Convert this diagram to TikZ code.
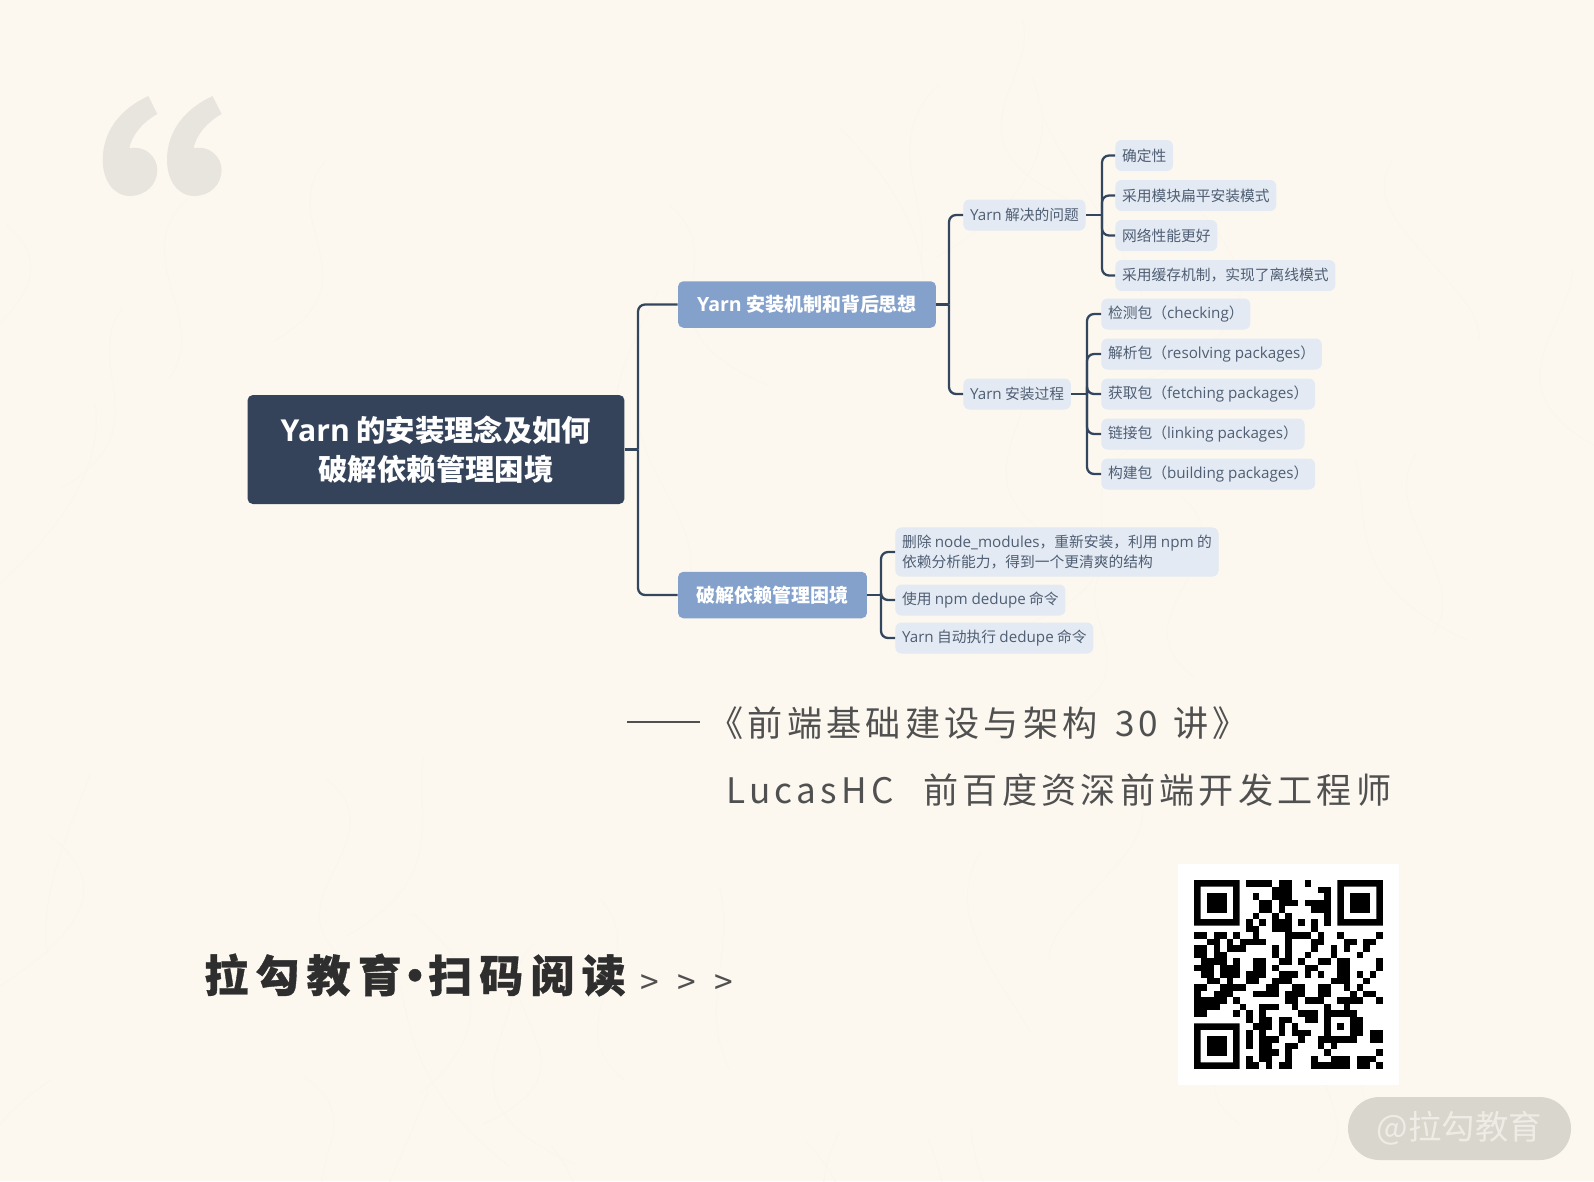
\documentclass[tikz,border=0pt]{standalone}
\usepackage{fontspec}
\usepackage{xcolor}
\setmainfont{Noto Sans CJK SC}
\newfontfamily\latfont[Scale=1.03]{Open Sans}
\newfontfamily\heavyfont[FakeBold=0.8]{Noto Sans CJK SC}
\newcommand{\la}[1]{{\latfont #1}}
\definecolor{paper}{HTML}{FCF8F0}
\definecolor{fibre}{HTML}{FAF6ED}
\definecolor{navy}{HTML}{34435A}
\definecolor{wire}{HTML}{34465E}
\definecolor{midblue}{HTML}{84A1CB}
\definecolor{paleblue}{HTML}{E3EAF3}
\definecolor{leaftext}{HTML}{4F5E73}
\definecolor{quotegray}{HTML}{E8E5DE}
\definecolor{pillgray}{HTML}{D9D6CE}
\definecolor{pilltext}{HTML}{EFECE5}
\definecolor{captext}{HTML}{505050}
\tikzset{
    rootbox/.style={fill=navy, text=white, rounded corners=3pt, inner sep=0pt, minimum width=7.54cm, minimum height=2.18cm, align=center, font=\fontsize{16.7}{22.3}\selectfont\bfseries},
    midbox/.style={fill=midblue, text=white, rounded corners=3pt, inner sep=0pt, minimum height=0.93cm, font=\fontsize{10.8}{13}\selectfont\bfseries},
    leafbox/.style={fill=paleblue, text=leaftext, rounded corners=3.5pt, inner xsep=3.8pt, inner ysep=0pt, minimum height=0.62cm, anchor=west, align=left, font=\fontsize{8.4}{11.3}\selectfont},
    branch/.style={draw=wire, line width=1.3pt, rounded corners=4pt},
    caption/.style={text=captext, inner sep=0pt, anchor=west, font=\fontsize{20}{24}\selectfont\addfontfeature{LetterSpace=12}}
}
\begin{document}
\begin{tikzpicture}[x=0.02cm, y=-0.02cm]
        %PAPER
        \fill[paper] (0,0) rectangle (1594,1181);
        \useasboundingbox (0,0) rectangle (1594,1181);
        \pgfmathsetseed{7}
        \foreach \i in {1,...,45}{
            \pgfmathsetmacro{\xa}{rnd*1594}
            \pgfmathsetmacro{\ya}{rnd*1181}
            \draw[fibre, line width=0.5pt] (\xa,\ya) .. controls (\xa+rand*90,\ya+60) and (\xa+rand*90,\ya+120) .. (\xa+rand*120,\ya+180);
        }
        %QUOTE MARK
        \foreach \dx in {0,64.3}{
            \fill[quotegray, xshift=\dx*0.02cm] (148.3,96) -- (157.3,114) .. controls (143.3,121.7) and (131.7,135) .. (129.3,148.3) .. controls (145,145) and (157.3,156.7) .. (157.3,170) .. controls (157.3,185) and (145,196) .. (130,196) .. controls (113.3,196) and (102.7,180) .. (102.7,160) .. controls (102.7,130) and (121.7,108.3) .. (148.3,96) -- cycle;
        }
        %NODES
        \node[rootbox] (root) at (436,449.5) {\la{Yarn} 的安装理念及如何\\破解依赖管理困境};
        \node[midbox, minimum width=5.16cm] (mech) at (807,304.5) {\la{Yarn} 安装机制和背后思想};
        \node[midbox, minimum width=3.78cm] (crack) at (772.5,595) {破解依赖管理困境};
        \node[leafbox] (solve) at (963,215) {\la{Yarn} 解决的问题};
        \node[leafbox] (steps) at (963,394) {\la{Yarn} 安装过程};
        \node[leafbox] (s1) at (1115,155.5) {确定性};
        \node[leafbox] (s2) at (1115,195.5) {采用模块扁平安装模式};
        \node[leafbox] (s3) at (1115,235.5) {网络性能更好};
        \node[leafbox] (s4) at (1115,275.5) {采用缓存机制，实现了离线模式};
        \node[leafbox] (p1) at (1101,314) {检测包（\la{checking}）};
        \node[leafbox] (p2) at (1101,354) {解析包（\la{resolving packages}）};
        \node[leafbox] (p3) at (1101,394) {获取包（\la{fetching packages}）};
        \node[leafbox] (p4) at (1101,434) {链接包（\la{linking packages}）};
        \node[leafbox] (p5) at (1101,474) {构建包（\la{building packages}）};
        \node[leafbox, inner ysep=4.3pt] (c1) at (895,552) {删除 \la{node\_modules}，重新安装，利用 \la{npm} 的\\依赖分析能力，得到一个更清爽的结构};
        \node[leafbox] (c2) at (895,600) {使用 \la{npm dedupe} 命令};
        \node[leafbox] (c3) at (895,638) {\la{Yarn} 自动执行 \la{dedupe} 命令};
        %BRANCH POINTS
        \coordinate (hubRoot) at (638,449.5);
        \coordinate (hubMech) at (949,304.5);
        \coordinate (hubSolve) at (1102,215);
        \coordinate (hubSteps) at (1087,394);
        \coordinate (hubCrack) at (881,595);
        %CONNECTORS
        \draw[branch] (root.east) -- (hubRoot);
        \draw[branch] (mech.east) -- (hubMech);
        \draw[branch] (crack.east) -- (hubCrack);
        \draw[branch] (solve.east) -- (hubSolve);
        \draw[branch] (steps.east) -- (hubSteps);
        \foreach \n in {mech,crack}{
            \draw[branch] (hubRoot) |- (\n.west);
        }
        \foreach \n in {solve,steps}{
            \draw[branch] (hubMech) |- (\n.west);
        }
        \foreach \n in {s1,s2,s3,s4}{
            \draw[branch] (hubSolve) |- (\n.west);
        }
        \foreach \n in {p1,p2,p3,p4,p5}{
            \draw[branch] (hubSteps) |- (\n.west);
        }
        \foreach \n in {c1,c2,c3}{
            \draw[branch] (hubCrack) |- (\n.west);
        }
        %CAPTION
        \coordinate (ruleL) at (627,722);
        \coordinate (ruleR) at (700,722);
        \draw[captext, line width=0.8pt] (ruleL) -- (ruleR);
        \node[caption] (book) at (708,723) {《前端基础建设与架构\hspace{3pt} 30\hspace{1.5pt} 讲》};
        \node[caption] (author) at (726,790) {LucasHC\hspace{0.85em}前百度资深前端开发工程师};
        %FOOTER
        \node[inner sep=0pt, anchor=west, text=black!82, font=\fontsize{25}{28}\selectfont\heavyfont\bfseries\addfontfeature{LetterSpace=16.5}] (scan) at (204,975) {拉勾教育\hspace{-0.2em}·\hspace{-0.2em}扫码阅读};
        \node[inner sep=0pt, anchor=west, text=captext, font=\fontsize{19}{22}\selectfont] (more) at (640,985) {>\hspace{10.5pt}>\hspace{10.5pt}>};
        %QR CODE
        \fill[white] (1178,864) rectangle (1399,1085);
        \begin{scope}[shift={(1194,880)}, x=0.13034cm, y=-0.13034cm]
            \foreach \fx/\fy in {0/0,22/0,0/22}{
                \fill[black, even odd rule] (\fx,\fy) rectangle ++(7,7) (\fx+1,\fy+1) rectangle ++(5,5);
                \fill[black] (\fx+2,\fy+2) rectangle ++(3,3);
            }
            \foreach \r/\cols in {0/{8,9,10,11,13,14,17}, 1/{12,13,14,19,20}, 2/{9,12,13,14,20}, 3/{10,11,13,14,15,17,18,19,20}, 4/{10,11,13,18,19,20}, 5/{9,12,14,20}, 6/{8,10,12,13,14,16,18,20}, 7/{8,9,12,13,14,18}, 8/{0,1,3,4,6,9,14,15,16,17,19,22,28}, 9/{2,3,5,7,8,9,10,14,18,19,23,24,26,27}, 10/{0,1,3,5,6,7,12,14,18,21,23,26}, 11/{0,1,3,4,12,14,17,21,25}, 12/{1,2,3,4,6,9,10,13,14,16,19,20,22,23,28}, 13/{0,1,2,4,5,6,9,10,12,17,18,22,23,28}, 14/{1,2,4,5,6,8,9,10,13,14,15,17,19,22,23,25,27}, 15/{2,3,5,8,9,12,13,14,21,22,23,26}, 16/{0,1,4,5,6,7,11,12,15,16,19,20,23,25}, 17/{0,3,4,5,9,10,11,12,14,15,16,19,20,24,26,27}, 18/{0,1,2,3,4,6,14,15,17,18,19,22,23,24,25,28}, 19/{0,1,2,3,7,10,11,12,15,20,23}, 20/{0,1,6,8,10,16,17,18,20,21,22,23,24}, 21/{8,10,11,13,14,17,18,20,24,25}, 22/{9,10,11,13,15,20,22,24,25}, 23/{8,10,13,15,16,17,20,24,25,27,28}, 24/{8,10,11,12,16,19,20,21,22,23,24,27,28}, 25/{8,10,11,14,15,19,21}, 26/{10,11,12,14,20,28}, 27/{8,10,11,14,18,21,22,23,25,26,27}, 28/{8,9,11,13,14,18,19,20,21,22,23,25,26,28}}{
                \foreach \c in \cols {
                    \fill[black] (\c,\r) rectangle ++(1,1);
                }
            }
        \end{scope}
        %WATERMARK
        \node[fill=pillgray, text=pilltext, rounded corners=17.8pt, inner sep=0pt, minimum width=4.46cm, minimum height=1.26cm, font=\fontsize{19}{21}\selectfont] (mark) at (1459.5,1128.5) {@拉勾教育};
    \end{tikzpicture}
\end{document}
